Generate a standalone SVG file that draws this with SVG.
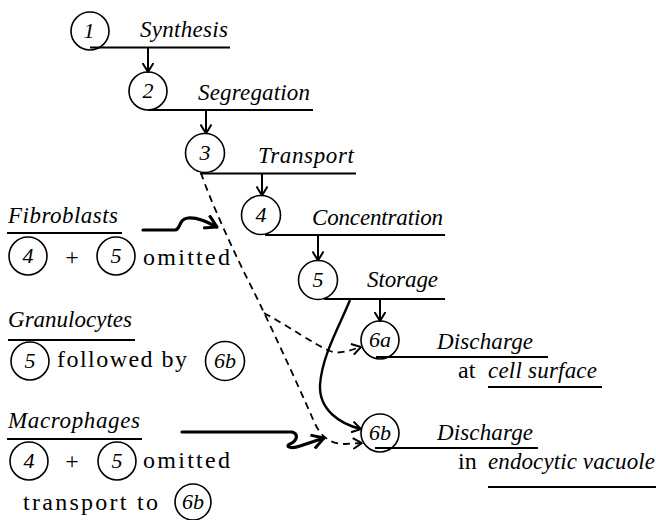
<svg xmlns="http://www.w3.org/2000/svg" width="656" height="520" viewBox="0 0 656 520">
<style>
.it{font-style:italic;font-size:23px}
.up{font-size:24px}
.cn{font-style:italic;font-size:22px;text-anchor:middle}
.cir{fill:none;stroke:#000;stroke-width:1.6}
.ln{fill:none;stroke:#000;stroke-width:2}
.ar{fill:none;stroke:#000;stroke-width:2}
.sq{fill:none;stroke:#000;stroke-width:3.2;stroke-linecap:round}
.da{fill:none;stroke:#000;stroke-width:1.8;stroke-dasharray:7 5}
.cu{fill:none;stroke:#000;stroke-width:2.4}
</style>
<defs>
<marker id="v" viewBox="0 0 10 12" refX="9.5" refY="6" markerWidth="10" markerHeight="12" markerUnits="userSpaceOnUse" orient="auto">
<path d="M0.5,0.5 L9.5,6 L0.5,11.5" fill="none" stroke="#000" stroke-width="2"/>
</marker>
<marker id="vb" viewBox="0 0 14 16" refX="13" refY="8" markerWidth="14" markerHeight="16" markerUnits="userSpaceOnUse" orient="auto">
<path d="M1,1 L13,8 L1,15" fill="none" stroke="#000" stroke-width="3"/>
</marker>
</defs>
<g font-family="Liberation Serif, Times New Roman, serif" fill="#000">
<g id="n1">
<circle class="cir" cx="90" cy="31" r="19"/>
<text class="cn" x="89" y="38">1</text>
<text class="it" x="140" y="37" textLength="88">Synthesis</text>
<line class="ln" x1="90" y1="47.5" x2="230" y2="47.5"/>
</g>
<g id="n2">
<circle class="cir" cx="148" cy="91" r="19"/>
<text class="cn" x="148" y="98">2</text>
<text class="it" x="198" y="100" textLength="112">Segregation</text>
<line class="ln" x1="148" y1="110" x2="313" y2="110"/>
</g>
<g id="n3">
<circle class="cir" cx="205" cy="153" r="19.5"/>
<text class="cn" x="205" y="160">3</text>
<text class="it" x="258" y="163" textLength="96">Transport</text>
<line class="ln" x1="200" y1="173.5" x2="356" y2="173.5"/>
</g>
<g id="n4">
<circle class="cir" cx="261" cy="215" r="19.5"/>
<text class="cn" x="261" y="222">4</text>
<text class="it" x="312" y="225" textLength="131">Concentration</text>
<line class="ln" x1="265" y1="235" x2="445" y2="235"/>
</g>
<g id="n5">
<circle class="cir" cx="318" cy="280" r="19.5"/>
<text class="cn" x="318" y="287">5</text>
<text class="it" x="367" y="287" textLength="71">Storage</text>
<line class="ln" x1="324" y1="299" x2="445" y2="299"/>
</g>
<g id="n6a">
<circle class="cir" cx="380" cy="340" r="19"/>
<text class="cn" x="380" y="347" font-size="21">6a</text>
<text class="it" x="437" y="349" textLength="96">Discharge</text>
<line class="ln" x1="376" y1="357" x2="548" y2="357"/>
<text class="up" x="458" y="378">at</text>
<text class="it" x="488" y="378" textLength="109">cell surface</text>
<line class="ln" x1="488" y1="387" x2="602" y2="387"/>
</g>
<g id="n6b">
<circle class="cir" cx="380" cy="433" r="19"/>
<text class="cn" x="380" y="440" font-size="21">6b</text>
<text class="it" x="437" y="440" textLength="96">Discharge</text>
<line class="ln" x1="375" y1="448" x2="538" y2="448"/>
<text class="up" x="458" y="469">in</text>
<text class="it" x="488" y="469" textLength="167">endocytic vacuole</text>
<line class="ln" x1="488" y1="487" x2="656" y2="487"/>
</g>

<g id="fibroblasts">
<text class="it" x="8" y="223" textLength="110">Fibroblasts</text>
<line class="ln" x1="7" y1="233" x2="122" y2="233"/>
<circle class="cir" cx="28" cy="256" r="19"/>
<text class="cn" x="28" y="263">4</text>
<text class="up" x="72" y="265" text-anchor="middle">+</text>
<circle class="cir" cx="116" cy="256" r="19"/>
<text class="cn" x="116" y="263">5</text>
<text class="up" x="143" y="265" textLength="87">omitted</text>
</g>
<g id="granulocytes">
<text class="it" x="8" y="327" textLength="124">Granulocytes</text>
<line class="ln" x1="8" y1="340" x2="135" y2="340"/>
<circle class="cir" cx="30" cy="361" r="19"/>
<text class="cn" x="30" y="368">5</text>
<text class="up" x="57" y="367" textLength="130">followed by</text>
<circle class="cir" cx="225" cy="361" r="19.5"/>
<text class="cn" x="225" y="368" font-size="21">6b</text>
</g>
<g id="macrophages">
<text class="it" x="8" y="428" textLength="132">Macrophages</text>
<line class="ln" x1="7" y1="439" x2="142" y2="439"/>
<circle class="cir" cx="29" cy="461" r="19"/>
<text class="cn" x="29" y="468">4</text>
<text class="up" x="72" y="469" text-anchor="middle">+</text>
<circle class="cir" cx="117" cy="461" r="19"/>
<text class="cn" x="117" y="468">5</text>
<text class="up" x="143" y="468" textLength="87">omitted</text>
<text class="up" x="23" y="510" textLength="135">transport to</text>
<circle class="cir" cx="193" cy="502" r="18"/>
<text class="cn" x="193" y="509" font-size="21">6b</text>
</g>
</g>
<g id="connectors">
<line class="ar" x1="148" y1="48" x2="148" y2="72" marker-end="url(#v)"/>
<line class="ar" x1="206" y1="110" x2="206" y2="133.5" marker-end="url(#v)"/>
<line class="ar" x1="262" y1="174" x2="262" y2="195.5" marker-end="url(#v)"/>
<line class="ar" x1="318" y1="235" x2="318" y2="260.5" marker-end="url(#v)"/>
<line class="ar" x1="380" y1="299" x2="380" y2="321" marker-end="url(#v)"/>
<path class="da" d="M201,173 C210,200 235,255 253,290 C268,320 298,385 312,417 C318,432 326,444 345,444 L362,443" marker-end="url(#v)"/>
<path class="da" d="M264,313 C290,327 315,345 330,351 C340,355 350,350 361,347" marker-end="url(#v)"/>
<path class="cu" d="M350,300 C340,325 322,355 320,385 C319,410 340,424 361,429" marker-end="url(#v)"/>
<path class="sq" d="M143,230 L175,230 C181,230 178,219 188,218 C197,217 207,222 217,227" marker-end="url(#vb)"/>
<path class="sq" d="M182,432 L292,432 C299,434 297,441 290,444 C284,447 292,449 300,446 L324,438" marker-end="url(#vb)"/>
</g>
</svg>
